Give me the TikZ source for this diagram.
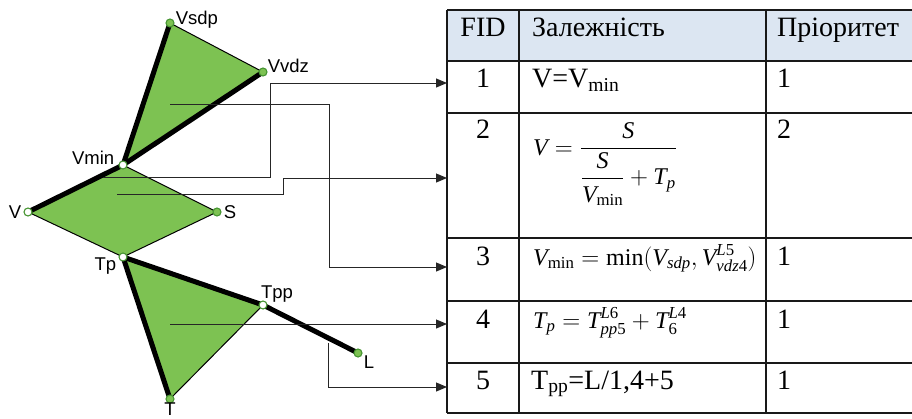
\documentclass[tikz,border=0pt]{standalone}
\usepackage{amsmath}
\usepackage{fontspec}
\setmainfont{Liberation Serif}
\newfontfamily\netsans{Liberation Sans}
\usepackage{tikz}
\usetikzlibrary{arrows.meta,positioning,backgrounds}
\usepackage{xcolor}
\definecolor{netgreen}{RGB}{125,194,82}
\definecolor{netrim}{RGB}{70,148,50}
\definecolor{headblue}{RGB}{220,230,242}
\tikzset{
    netpoint/.style={circle, draw=netrim, fill=netgreen, line width=1.1pt, inner sep=0pt, minimum size=8pt},
    netopen/.style={netpoint, fill=white},
    netlabel/.style={font=\netsans\fontsize{18.5}{20}\selectfont, inner sep=1pt},
    netbold/.style={line width=5pt, line cap=round},
    netthin/.style={line width=1pt},
    tabtext/.style={font=\fontsize{28}{32}\selectfont, inner sep=0pt},
    tabmath/.style={font=\fontsize{24}{28}\selectfont, inner sep=0pt},
    tabline/.style={line width=1.2pt, draw=black!90},
    tabarrow/.style={-{Triangle[length=11pt,width=9pt]}, line width=1pt, draw=black!85}
}

\begin{document}
\begin{tikzpicture}[x=1pt, y=-1pt]
        \useasboundingbox (0,0) rectangle (912,418);

        % graph points
        \node[netpoint, label={[netlabel, yshift=3pt]right:Vsdp}] (vsdp) at (170,23) {};
        \node[netpoint, label={[netlabel, yshift=6pt, xshift=-1pt]right:Vvdz}] (vvdz) at (263,72) {};
        \node[netopen, label={[netlabel, yshift=7pt, xshift=-3pt]left:Vmin}] (vmin) at (123,165) {};
        \node[netopen, label={[netlabel, xshift=-1pt]left:V}] (v) at (28,212) {};
        \node[netpoint, label={[netlabel, xshift=1pt]right:S}] (s) at (217,212) {};
        \node[netopen, label={[netlabel, yshift=-9pt, xshift=-1pt]left:Tp}] (tp) at (123,257) {};
        \node[netopen, label={[netlabel, xshift=14pt, yshift=-3pt]above:Tpp}] (tpp) at (263,305) {};
        \node[netpoint, label={[netlabel, yshift=-9pt]right:L}] (l) at (358,353) {};
        \node[netpoint, label={[netlabel, yshift=2pt]below:T}] (t) at (170,399) {};

        \begin{scope}[on background layer]
            \fill[netgreen] (vsdp.center) -- (vvdz.center) -- (vmin.center) -- cycle;
            \fill[netgreen] (v.center) -- (vmin.center) -- (s.center) -- (tp.center) -- cycle;
            \fill[netgreen] (tp.center) -- (tpp.center) -- (t.center) -- cycle;
            \foreach \a/\b in {vsdp/vvdz,vmin/s,s/tp,v/tp,tpp/t}
                \draw[netthin] (\a.center) -- (\b.center);
            \foreach \a/\b in {vsdp/vmin,vvdz/vmin,v/vmin,tp/t,tp/tpp,tpp/l}
                \draw[netbold] (\a.center) -- (\b.center);
        \end{scope}

        % table
        \fill[headblue] (447,10) rectangle (912,61);
        \foreach \y in {10,61,113,238,301,363,413}
            \draw[tabline] (447,\y) -- (912,\y);
        \foreach \x in {447,519,766}
            \draw[tabline] (\x,10) -- (\x,413);

        \node[tabtext, anchor=base] (fidhead) at (483,36) {FID};
        \node[tabtext, anchor=base west] (dephead) at (532,36) {Залежність};
        \node[tabtext, anchor=base west] (prihead) at (777,36) {Пріоритет};

        \node[tabtext, anchor=base] (fid1) at (483,87) {1};
        \node[tabtext, anchor=base west] (dep1) at (532,87) {V=V\textsubscript{min}};
        \node[tabtext, anchor=base west] (pri1) at (777,87) {1};

        \node[tabtext, anchor=base] (fid2) at (483,138) {2};
        \node[tabmath, anchor=base west] (dep2) at (533,155) {$\mathit{V}=\dfrac{\mathit{S}}{\dfrac{\mathit{S}}{\mathit{V}_{\min}}+\mathit{T}_{\mathit{p}}}$};
        \node[tabtext, anchor=base west] (pri2) at (777,138) {2};

        \node[tabtext, anchor=base] (fid3) at (483,265) {3};
        \node[tabmath, anchor=base west] (dep3) at (533,265) {$\mathit{V}_{\min}=\min(\mathit{V}_{\mathit{sdp}},\mathit{V}^{\mathit{L}\mathrm{5}}_{\mathit{vdz}\mathrm{4}})$};
        \node[tabtext, anchor=base west] (pri3) at (777,265) {1};

        \node[tabtext, anchor=base] (fid4) at (483,328) {4};
        \node[tabmath, anchor=base west] (dep4) at (533,328) {$\mathit{T}_{\mathit{p}}=\mathit{T}^{\mathit{L}\mathrm{6}}_{\mathit{pp}\mathrm{5}}+\mathit{T}^{\mathit{L}\mathrm{4}}_{\mathrm{6}}$};
        \node[tabtext, anchor=base west] (pri4) at (777,328) {1};

        \node[tabtext, anchor=base] (fid5) at (483,389) {5};
        \node[tabtext, anchor=base west] (dep5) at (531,389) {T\textsubscript{pp}=L/1,4+5};
        \node[tabtext, anchor=base west] (pri5) at (777,389) {1};

        % links from graph to rows
        \coordinate (src1) at (103,177);
        \coordinate (src2) at (117,194);
        \coordinate (src3) at (170,104);
        \coordinate (src4) at (170,324);
        \coordinate (src5) at (328,343);
        \coordinate (in1) at (447,83);
        \coordinate (in2) at (447,178);
        \coordinate (in3) at (447,267);
        \coordinate (in4) at (447,324);
        \coordinate (in5) at (447,387);

        \draw[tabarrow] (src1) -- (270,177) |- (in1);
        \draw[tabarrow] (src2) -- (283,194) |- (in2);
        \draw[tabarrow] (src3) -- (329,104) |- (in3);
        \draw[tabarrow] (src4) -- (in4);
        \draw[tabarrow] (src5) |- (in5);
    \end{tikzpicture}
\end{document}
